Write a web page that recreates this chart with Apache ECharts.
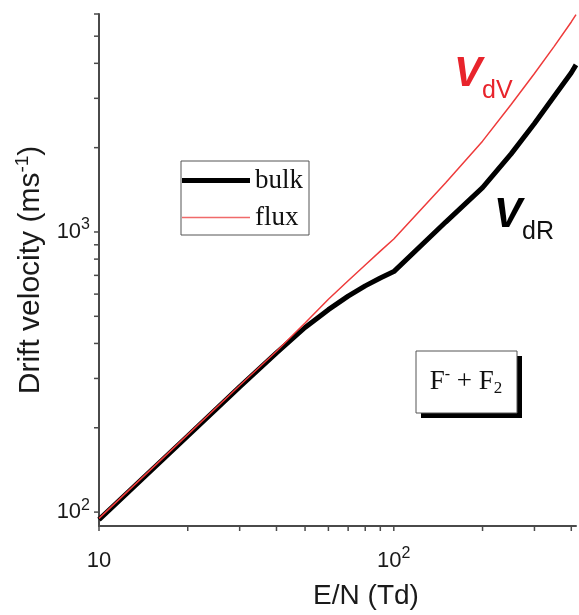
<!DOCTYPE html>
<html><head><meta charset="utf-8">
<script src="https://cdn.jsdelivr.net/npm/echarts@6/dist/echarts.min.js"></script>
<style>html,body{margin:0;padding:0;background:#fff}#c{width:579px;height:615px}</style>
</head><body><div id="c"></div>
<script>
// E/N (Td)
const energyTd = [10, 20, 30, 40, 50, 60, 70, 80, 90, 100, 150, 200, 250, 300, 350, 400, 415];
// bulk drift velocity (m/s)
const bulkVelocity = [94, 187, 280, 370, 456, 528, 590, 642, 685, 722, 1085, 1440, 1900, 2440, 3050, 3700, 3950];
// flux drift velocity (m/s)
const fluxVelocity = [95, 189, 283, 375, 473, 575, 670, 762, 854, 944, 1500, 2110, 2850, 3680, 4600, 5620, 5970];
const xTickValues = [10, 20, 30, 40, 50, 60, 70, 80, 90, 100, 200, 300, 400];
const yTickValues = [100, 200, 300, 400, 500, 600, 700, 800, 900, 1000, 2000, 3000, 4000, 5000, 6000];
const seriesNames = ['bulk', 'flux'];

const X_MIN = 10, X_MAX = 415, Y_MIN = 89.2, Y_MAX = 6000;
const AXIS_COLOR = '#4a4a4a';
const SANS = 'Liberation Sans';
const SERIF = 'Liberation Serif';

function powLabel(v) {
  const l = Math.log10(v);
  if (Math.abs(l - Math.round(l)) > 1e-6) return '';
  const n = Math.round(l);
  if (n === 1) return '{b|10}';
  return '{b|10}{s|' + n + '}';
}
const labelRich = {
  b: {fontFamily: SANS, fontSize: 22, color: '#1a1a1a', lineHeight: 34},
  s: {fontFamily: SANS, fontSize: 16, color: '#1a1a1a', lineHeight: 19, padding: [0, 0, 14, 0]}
};

function tickSeries(name, values, isX) {
  return {
    name: name, type: 'custom', silent: true, clip: false, z: 5,
    data: values.map(v => isX ? [v, Y_MIN] : [X_MIN, v]),
    renderItem: function (params, api) {
      const p = api.coord([api.value(0), api.value(1)]);
      const len = 5;
      const shape = isX ? {x1: p[0], y1: p[1], x2: p[0], y2: p[1] + len}
                        : {x1: p[0] - len, y1: p[1], x2: p[0], y2: p[1]};
      return {type: 'line', shape: shape, style: {stroke: AXIS_COLOR, lineWidth: 1.5}};
    }
  };
}

const chart = echarts.init(document.getElementById('c'), null, {renderer: 'canvas'});
chart.setOption({
  animation: false,
  backgroundColor: '#fff',
  grid: {left: 99, right: 1, top: 14, bottom: 87, containLabel: false},
  legend: {
    data: [
      {name: seriesNames[0], icon: 'path://M0,0H68V5H0Z', itemStyle: {color: '#000'}},
      {name: seriesNames[1], icon: 'path://M0,0H68V1.5H0Z', itemStyle: {color: '#f06a6a'}}
    ],
    symbolKeepAspect: true,
    orient: 'vertical', left: 181, top: 161,
    itemWidth: 68, itemHeight: 14, itemGap: 10,
    padding: [6, 6, 4, 1],
    borderColor: '#555', borderWidth: 1,
    textStyle: {fontFamily: SERIF, fontSize: 27, color: '#111', lineHeight: 26},
    selectedMode: false
  },
  xAxis: {
    type: 'log', logBase: 10, min: X_MIN, max: X_MAX,
    name: 'E/N (Td)', nameLocation: 'middle', nameGap: 56,
    nameTextStyle: {fontFamily: SANS, fontSize: 28, color: '#1a1a1a', padding: [0, 0, 0, 57]},
    axisLine: {show: true, lineStyle: {color: AXIS_COLOR, width: 2}},
    axisTick: {show: false},
    splitLine: {show: false},
    minorTick: {show: false},
    axisLabel: {margin: 18, formatter: powLabel, rich: labelRich}
  },
  yAxis: {
    type: 'log', logBase: 10, min: Y_MIN, max: Y_MAX,
    name: 'Drift velocity (ms{s|-1})', nameLocation: 'middle', nameGap: 48, nameRotate: 90,
    nameTextStyle: {fontFamily: SANS, fontSize: 30, color: '#1a1a1a',
      rich: {s: {fontFamily: SANS, fontSize: 19, color: '#1a1a1a', padding: [0, 0, 15, 0]}}},
    axisLine: {show: true, lineStyle: {color: AXIS_COLOR, width: 2}},
    axisTick: {show: false},
    splitLine: {show: false},
    axisLabel: {margin: 9, formatter: powLabel, rich: labelRich}
  },
  series: [
    {
      name: seriesNames[0], type: 'line', symbol: 'none', z: 2,
      data: energyTd.map((x, i) => [x, bulkVelocity[i]]),
      lineStyle: {color: '#000', width: 5}, itemStyle: {color: '#000'}
    },
    {
      name: seriesNames[1], type: 'line', symbol: 'none', z: 3,
      data: energyTd.map((x, i) => [x, fluxVelocity[i]]),
      lineStyle: {color: '#ee3b3b', width: 1.5}, itemStyle: {color: '#ee3b3b'}
    },
    tickSeries('xticks', xTickValues, true),
    tickSeries('yticks', yTickValues, false)
  ],
  graphic: [
    {
      type: 'text', x: 454, y: 50, z: 10,
      style: {
        text: '{v|V}{s|dV}',
        rich: {
          v: {fontFamily: SANS, fontSize: 42, lineHeight: 48, fontWeight: 'bold', fontStyle: 'italic', fill: '#e8242c'},
          s: {fontFamily: SANS, fontSize: 25, lineHeight: 30, fill: '#e8242c', padding: [34, 0, 0, 0]}
        }
      }
    },
    {
      type: 'text', x: 494, y: 191, z: 10,
      style: {
        text: '{v|V}{s|dR}',
        rich: {
          v: {fontFamily: SANS, fontSize: 42, lineHeight: 48, fontWeight: 'bold', fontStyle: 'italic', fill: '#000'},
          s: {fontFamily: SANS, fontSize: 25, lineHeight: 30, fill: '#111', padding: [34, 0, 0, 0]}
        }
      }
    },
    {
      type: 'group', x: 416, y: 351, z: 10,
      children: [
        {type: 'rect', shape: {x: 5, y: 5, width: 101, height: 62}, style: {fill: '#000'}},
        {type: 'rect', shape: {x: 0, y: 0, width: 101, height: 62}, style: {fill: '#fff', stroke: '#555', lineWidth: 1}},
        {
          type: 'text', x: 50, y: 31,
          style: {
            text: '{f|F}{p|-}{f| + F}{b|2}', align: 'center', verticalAlign: 'middle',
            rich: {
              f: {fontFamily: SERIF, fontSize: 27, fill: '#111'},
              p: {fontFamily: SERIF, fontSize: 16, fill: '#111', padding: [0, 0, 14, 0]},
              b: {fontFamily: SERIF, fontSize: 17, fill: '#111', padding: [14, 0, 0, 0]}
            }
          }
        }
      ]
    }
  ]
});
</script></body></html>
